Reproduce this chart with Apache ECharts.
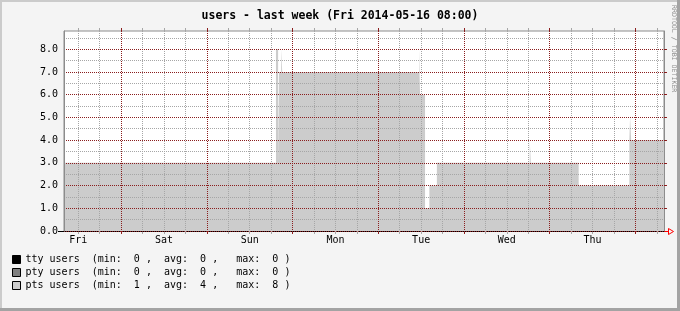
<!DOCTYPE html>
<html>
<head>
<meta charset="utf-8">
<script src="https://cdn.jsdelivr.net/npm/echarts@6/dist/echarts.min.js"></script>
<style>
html,body{margin:0;padding:0;background:#f4f4f4;}
#chart{width:680px;height:311px;}
</style>
</head>
<body>
<div id="chart"></div>
<script>
// ---- data (hours since Fri 2014-05-09 08:00) ----
const titleText = 'users - last week (Fri 2014-05-16 08:00)';
const seriesNames = ['tty users', 'pty users', 'pts users'];
const seriesColors = ['#000000', '#808080', '#cccccc'];
const statMin = [0, 0, 1];
const statAvg = [0, 0, 4];
const statMax = [0, 0, 8];
const ttyUsers = [[0, 0], [168, 0]];
const ptyUsers = [[0, 0], [168, 0]];
const ptsHours  = [0, 59.35, 59.95, 60.2, 60.8, 61.1, 99.4, 99.7, 101.1, 102.3, 104.4, 130.4, 130.7, 144.1, 158.3, 158.5, 158.8, 168];
const ptsValues = [3, 8,     3,     7,    8,    7,    8,    6,    1,     2,     3,     4,     3,     2,     4,     5,     4,     4];
const dayLabels = ['Fri', 'Sat', 'Sun', 'Mon', 'Tue', 'Wed', 'Thu'];
const labelHours = [4, 28, 52, 76, 100, 124, 148];
const majorHours = [16, 40, 64, 88, 112, 136, 160];
const minorHours = [4, 10, 22, 28, 34, 46, 52, 58, 70, 76, 82, 94, 100, 106, 118, 124, 130, 142, 148, 154, 166];
const yMajorTicks = [0, 1, 2, 3, 4, 5, 6, 7, 8];
const yMinorTicks = [0.5, 1.5, 2.5, 3.5, 4.5, 5.5, 6.5, 7.5, 8.5];
const xMin = 0, xMax = 168, yMin = 0, yMax = 8.8;

const ptsUsers = ptsHours.map((h, i) => [h, ptsValues[i]]);

const MONO = 'DejaVu Sans Mono';
const GRID_GREY = '#a6a6a6';
const GRID_RED = '#8a1e1e';

function pad(v, n) { return String(v).padStart(n, ' '); }
function legendText(name) {
  const i = seriesNames.indexOf(name);
  return name.padEnd(11, ' ') + '(min:' + pad(statMin[i], 3) + ' ,  avg:' + pad(statAvg[i], 3) +
    ' ,   max:' + pad(statMax[i], 3) + ' )';
}

const chart = echarts.init(document.getElementById('chart'), null, { renderer: 'canvas' });

function merge(base, extra) {
  const out = Object.assign({}, base, extra);
  out.axisLine = Object.assign({}, base.axisLine, extra.axisLine || {});
  return out;
}
function xAxisBase(extra) {
  return merge({
    type: 'value', min: xMin, max: xMax, gridIndex: 0,
    axisLine: { show: false, onZero: false },
    axisLabel: { show: false },
    axisTick: { show: false },
    splitLine: { show: false },
    z: 5
  }, extra);
}
function yAxisBase(extra) {
  return merge({
    type: 'value', min: yMin, max: yMax, gridIndex: 0,
    axisLine: { show: false, onZero: false },
    axisLabel: { show: false },
    axisTick: { show: false },
    splitLine: { show: false },
    z: 5
  }, extra);
}

const option = {
  backgroundColor: '#f4f4f4',
  animation: false,
  title: {
    text: titleText,
    left: 'center',
    top: 5,
    textStyle: { fontFamily: MONO, fontSize: 11.5, fontWeight: 'bold', color: '#000' }
  },
  legend: {
    orient: 'vertical',
    left: 12,
    top: 253,
    padding: 0,
    itemWidth: 8,
    itemHeight: 8,
    itemGap: 0,
    icon: 'rect',
    selectedMode: false,
    data: seriesNames,
    formatter: legendText,
    itemStyle: { borderColor: '#000', borderWidth: 1 },
    textStyle: { fontFamily: MONO, fontSize: 10, color: '#000', lineHeight: 13 }
  },
  grid: {
    left: 64, right: 16, top: 31, bottom: 80,
    show: true, backgroundColor: '#ffffff', borderColor: '#8c8c8c', borderWidth: 1
  },
  xAxis: [
    xAxisBase({
      position: 'bottom',
      axisLine: { show: true, lineStyle: { color: '#000', width: 1 } },
      axisTick: { show: true, customValues: minorHours, length: 3, lineStyle: { color: GRID_GREY } },
      splitLine: { show: true, lineStyle: { color: GRID_GREY, width: 1, type: [1, 1] } },
      axisLabel: {
        show: true, customValues: labelHours, margin: 4,
        fontFamily: MONO, fontSize: 10, color: '#000',
        formatter: v => dayLabels[labelHours.indexOf(v)] || ''
      }
    }),
    xAxisBase({
      position: 'bottom',
      axisTick: { show: true, customValues: majorHours, length: 3, lineStyle: { color: GRID_RED } },
      splitLine: { show: true, lineStyle: { color: GRID_RED, width: 1, type: [1, 1] } },
      z: 6
    }),
    xAxisBase({
      position: 'top',
      axisTick: { show: true, customValues: minorHours, length: 3, lineStyle: { color: GRID_GREY } }
    }),
    xAxisBase({
      position: 'top',
      axisTick: { show: true, customValues: majorHours, length: 3, lineStyle: { color: GRID_RED } }
    })
  ],
  yAxis: [
    yAxisBase({
      interval: 1, position: 'left',
      axisLine: { show: true, lineStyle: { color: '#8c8c8c' } },
      axisTick: { show: false, customValues: yMajorTicks },
      axisLabel: {
        show: true, customValues: yMajorTicks, margin: 6,
        fontFamily: MONO, fontSize: 10, color: '#000',
        formatter: v => v.toFixed(1)
      },
      splitLine: { show: true, lineStyle: { color: GRID_RED, width: 1, type: [1, 1] } },
      z: 6
    }),
    yAxisBase({
      interval: 0.5, position: 'right',
      axisLine: { show: true, lineStyle: { color: '#8c8c8c' } },
      axisTick: { show: false, customValues: yMinorTicks },
      splitLine: { show: true, lineStyle: { color: GRID_GREY, width: 1, type: [1, 1] } },
      z: 5
    }),
    yAxisBase({
      interval: 1, position: 'right',
      axisTick: { show: true, customValues: yMajorTicks, length: 3, lineStyle: { color: GRID_RED } },
      z: 6
    }),
    yAxisBase({
      interval: 1, position: 'left',
      axisTick: { show: true, customValues: [0], length: 6, lineStyle: { color: '#000' } },
      z: 6
    })
  ],
  series: [
    {
      name: seriesNames[0], type: 'line', step: 'end', data: ttyUsers,
      xAxisIndex: 0, yAxisIndex: 0, color: seriesColors[0],
      showSymbol: false, lineStyle: { width: 0 }, areaStyle: { color: seriesColors[0], opacity: 1 }, z: 2
    },
    {
      name: seriesNames[1], type: 'line', step: 'end', data: ptyUsers,
      xAxisIndex: 0, yAxisIndex: 0, color: seriesColors[1],
      showSymbol: false, lineStyle: { width: 0 }, areaStyle: { color: seriesColors[1], opacity: 1 }, z: 2
    },
    {
      name: seriesNames[2], type: 'line', step: 'end', data: ptsUsers,
      xAxisIndex: 0, yAxisIndex: 0, color: seriesColors[2],
      showSymbol: false, lineStyle: { width: 0 }, areaStyle: { color: seriesColors[2], opacity: 1 }, z: 2
    }
  ],
  graphic: [
    { type: 'rect', shape: { x: 0, y: 0, width: 680, height: 2 }, style: { fill: '#cbcbcb' }, z: 100, silent: true },
    { type: 'rect', shape: { x: 0, y: 0, width: 2, height: 311 }, style: { fill: '#cbcbcb' }, z: 100, silent: true },
    { type: 'rect', shape: { x: 677, y: 0, width: 3, height: 311 }, style: { fill: '#a3a3a3' }, z: 101, silent: true },
    { type: 'rect', shape: { x: 0, y: 308, width: 680, height: 3 }, style: { fill: '#a3a3a3' }, z: 101, silent: true },
    {
      type: 'text', x: 670, y: 5, rotation: -Math.PI / 2,
      style: { text: 'RRDTOOL / TOBI OETIKER', font: '6.6px "DejaVu Sans Mono"', fill: '#8f8f8f', textVerticalAlign: 'bottom' },
      z: 100, silent: true
    },
    {
      type: 'polyline', shape: { points: [[664.5, 231.5], [668.5, 231.5]] },
      style: { stroke: '#ff0000', lineWidth: 1, fill: null }, z: 100, silent: true
    },
    {
      type: 'polygon', shape: { points: [[668.5, 228.5], [673.5, 231.5], [668.5, 234.5]] },
      style: { stroke: '#ff0000', lineWidth: 1, fill: null }, z: 100, silent: true
    }
  ]
};

chart.setOption(option);
</script>
</body>
</html>
